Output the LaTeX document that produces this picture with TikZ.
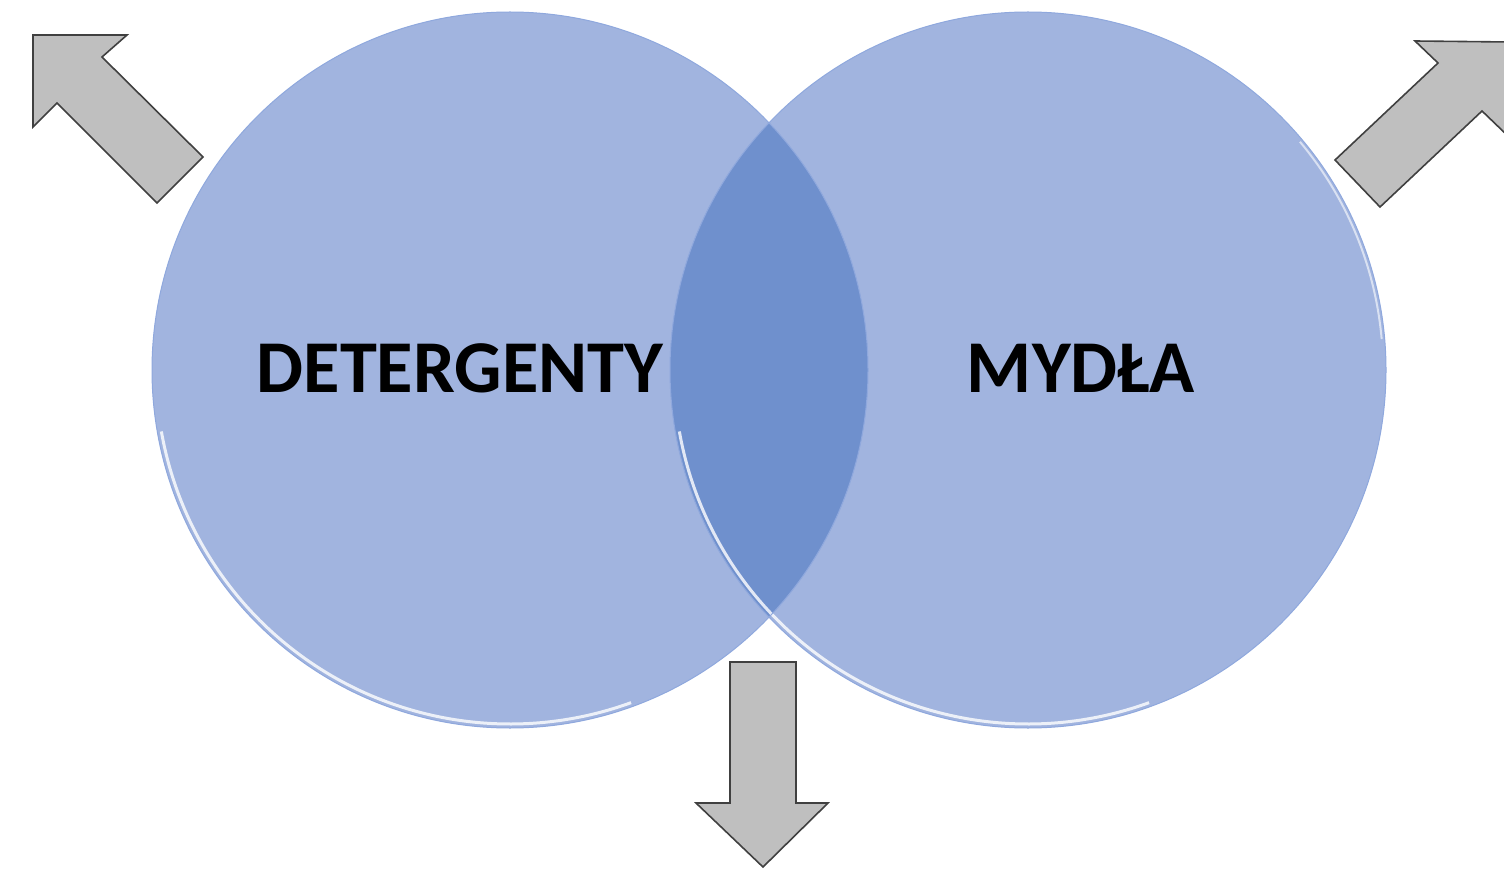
\documentclass[tikz,border=0pt]{standalone}
\usepackage{fontspec}
\setmainfont{Carlito}
\definecolor{circfill}{HTML}{A1B4DF}
\definecolor{lensfill}{HTML}{6F90CD}
\definecolor{rimblue}{HTML}{8FA8DD}
\definecolor{arrowfill}{HTML}{BFBFBF}
\definecolor{arrowline}{HTML}{404040}
\tikzset{
  venn/.style={circle, minimum size=716pt, inner sep=0pt, fill=circfill},
  label/.style={font=\bfseries\fontsize{74.5}{80}\selectfont, text=black, inner sep=0pt},
  blockarrow/.style={fill=arrowfill, draw=arrowline, line width=1.6pt, line join=miter},
  rim/.style={draw=rimblue, line width=1pt},
  gloss/.style={draw=white, line width=3pt, opacity=0.8}
}
\begin{document}
\begin{tikzpicture}[x=1pt,y=-1pt]
\useasboundingbox (0,0) rectangle (1504,893);
\clip (0,0) rectangle (1504,893);
% circles
\node[venn] (L) at (510,370) {};
\node[venn] (R) at (1028,370) {};
\begin{scope}
  \clip (L.center) circle (358);
  \fill[lensfill] (R.center) circle (358);
\end{scope}
% rims
\draw[gloss] (L.center) ++(70:354) arc[start angle=70, end angle=170, radius=354];
\draw[gloss] (R.center) ++(70:354) arc[start angle=70, end angle=170, radius=354];
\draw[gloss, line width=2pt, opacity=0.6] (R.center) ++(-40:355) arc[start angle=-40, end angle=-5, radius=355];
\draw[rim] (L.center) circle (358);
\draw[rim] (R.center) circle (358);
% labels
\node[label] (t1) at (460,368) {DETERGENTY};
\node[label] (t2) at (1081,368) {MYDŁA};
% arrows
\draw[blockarrow] (33,35) -- (127,35) -- (102,57) -- (203,157) -- (157,203) -- (57,103) -- (33,127) -- cycle;
\draw[blockarrow] (1509,42) -- (1415,41) -- (1438,63) -- (1335,160) -- (1380,207) -- (1482,111) -- (1508,136) -- cycle;
\draw[blockarrow] (730,662) -- (796,662) -- (796,803) -- (828,803) -- (763,867) -- (696,803) -- (730,803) -- cycle;
\end{tikzpicture}
\end{document}
